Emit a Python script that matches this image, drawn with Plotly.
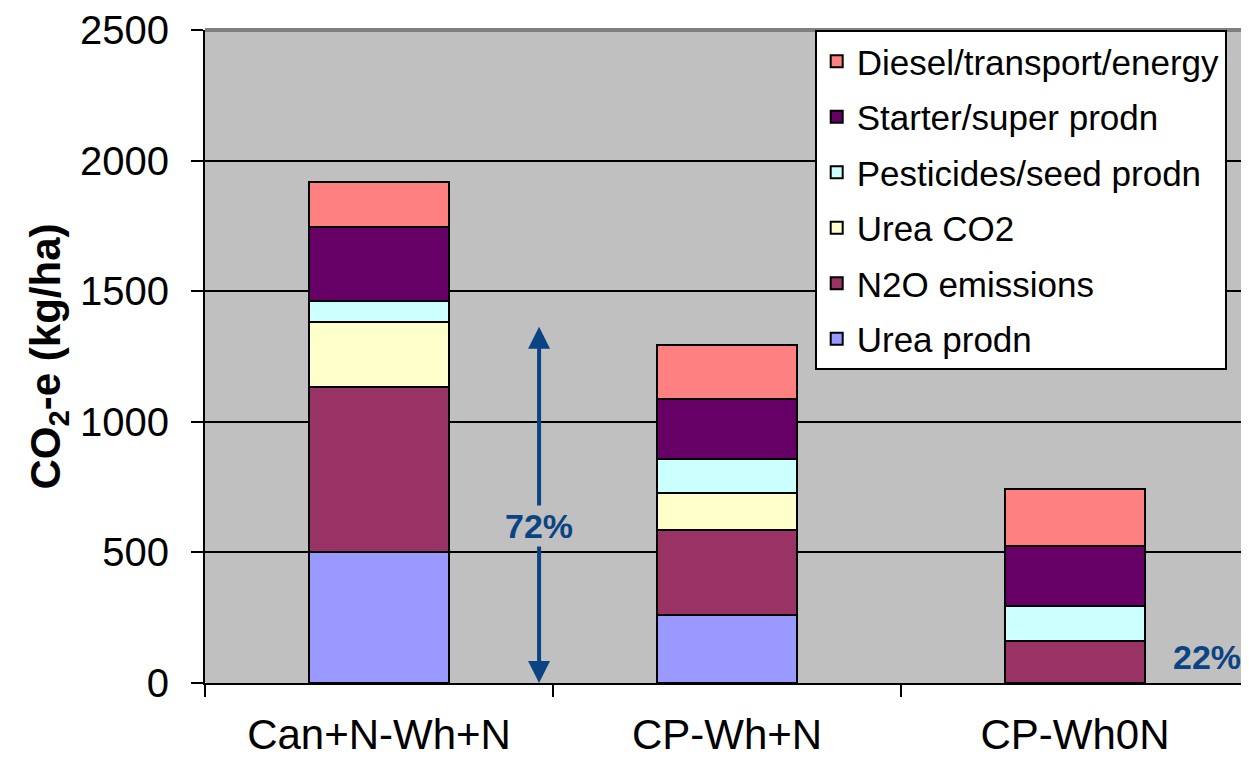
import plotly.graph_objects as go

categories = ["Can+N-Wh+N", "CP-Wh+N", "CP-Wh0N"]
urea_prodn = [503, 259, 0]
n2o_emissions = [630, 328, 161]
urea_co2 = [248, 140, 0]
pesticides_seed = [82, 132, 134]
starter_super = [282, 228, 228]
diesel_transport = [174, 208, 220]

series = [
    ("Urea prodn", urea_prodn, "#9999FF"),
    ("N2O emissions", n2o_emissions, "#993366"),
    ("Urea CO2", urea_co2, "#FFFFCC"),
    ("Pesticides/seed prodn", pesticides_seed, "#CCFFFF"),
    ("Starter/super prodn", starter_super, "#660066"),
    ("Diesel/transport/energy", diesel_transport, "#FF8080"),
]

arrow_top = 1370
label_72 = "72%"
label_22 = "22%"

FONT = "Liberation Sans, Arial, sans-serif"
BLUE = "#0B4383"

fig = go.Figure()
n = len(series)
for i, (name, vals, col) in enumerate(series):
    fig.add_trace(go.Bar(
        x=categories, y=vals, name=name, width=0.4,
        marker=dict(color=col, line=dict(color="black", width=2)),
        legendgroup=f"g{n - i}",
        legendrank=n - i,
    ))

fig.update_layout(
    width=1241, height=754,
    barmode="stack",
    paper_bgcolor="white",
    plot_bgcolor="#C0C0C0",
    margin=dict(l=197, r=0, t=19, b=79),
    font=dict(family=FONT, color="black"),
    showlegend=True,
    legend=dict(
        x=0.584, y=1, xanchor="left", yanchor="top",
        bgcolor="white", bordercolor="black", borderwidth=2,
        font=dict(size=35, family=FONT),
        traceorder="grouped",
        tracegroupgap=7,
    ),
    xaxis=dict(
        range=[-0.5, 2.5],
        tickson="boundaries",
        ticks="outside", ticklen=12, tickwidth=2, tickcolor="black",
        tickfont=dict(size=42, family=FONT),
        ticklabelstandoff=14,
        showline=True, linecolor="black", linewidth=2,
        showgrid=False,
    ),
    yaxis=dict(
        range=[0, 2500], dtick=500,
        ticks="outside", ticklen=12, tickwidth=2, tickcolor="black",
        tickfont=dict(size=40, family=FONT),
        ticklabelstandoff=14,
        ticklabeloverflow="allow",
        showline=True, linecolor="black", linewidth=2,
        showgrid=True, gridcolor="black", gridwidth=1.5,
        zeroline=False,
        title=dict(text="<b>CO<sub>2</sub>-e (kg/ha)</b>", font=dict(size=42, family=FONT), standoff=6),
    ),
)

# top border of plot area
fig.add_shape(type="line", xref="paper", yref="paper", x0=0, x1=1, y0=1, y1=1,
              line=dict(color="#808080", width=4))

# double-headed arrow
fig.add_annotation(x=0.46, y=0, ax=0.46, ay=arrow_top, xref="x", yref="y", axref="x", ayref="y",
                   showarrow=True, arrowhead=2, startarrowhead=2, arrowside="end+start",
                   arrowwidth=4, arrowcolor=BLUE, arrowsize=1.1, startarrowsize=1.1, text="")
fig.add_annotation(x=0.46, y=602, xref="x", yref="y", text=f"<b>{label_72}</b>", showarrow=False,
                   font=dict(size=34, color=BLUE, family=FONT), bgcolor="#C0C0C0")
fig.add_annotation(x=2.38, y=99, xref="x", yref="y", text=f"<b>{label_22}</b>", showarrow=False,
                   font=dict(size=34, color=BLUE, family=FONT))

fig.write_html("out.html")
